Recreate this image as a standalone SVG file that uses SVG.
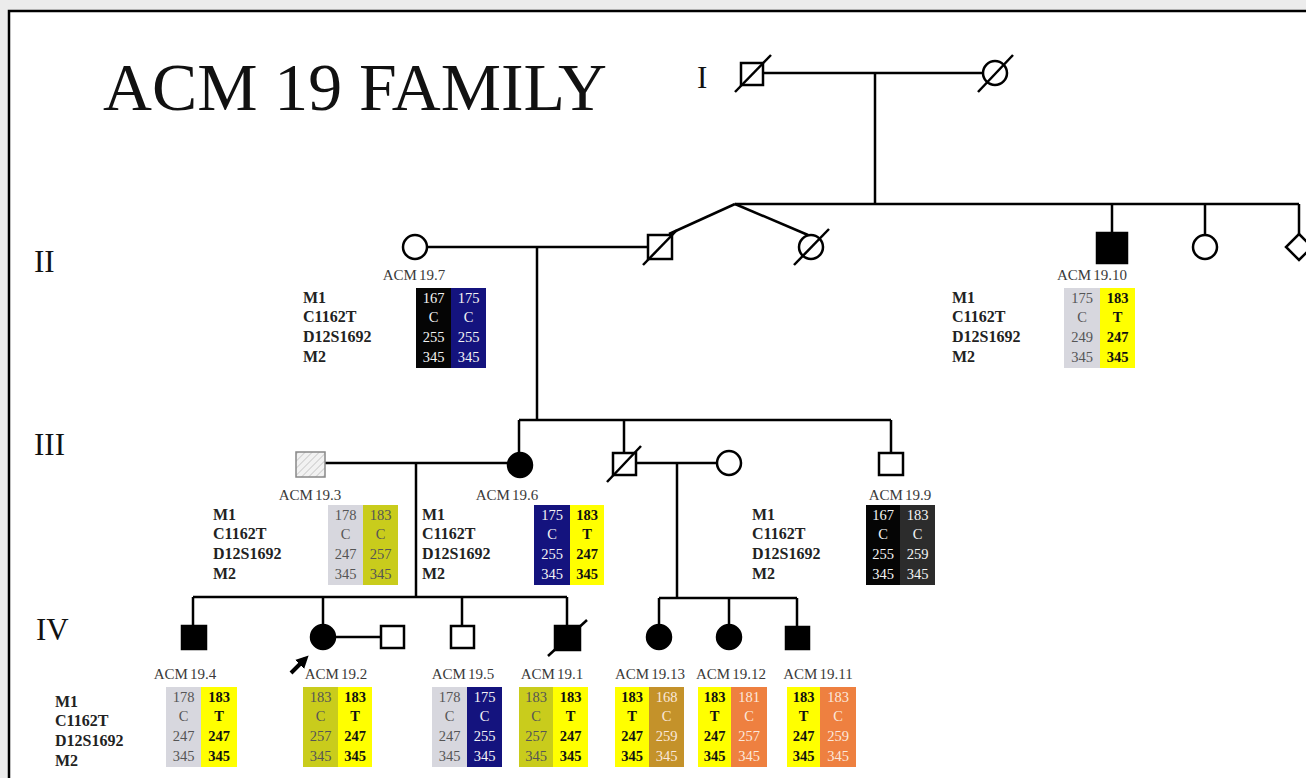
<svg xmlns="http://www.w3.org/2000/svg" width="1306" height="778" viewBox="0 0 1306 778">
<style>
.ln{stroke:#000;stroke-width:2.5;fill:none}
.sym{stroke:#000;stroke-width:2.5;fill:#fff}
.aff{stroke:#000;stroke-width:2.5;fill:#000}
.sl{stroke:#000;stroke-width:2.5}
.gen{font-family:"Liberation Serif",serif;font-size:31px;fill:#111}
.id{font-family:"Liberation Serif",serif;font-size:15px;fill:#3a3a3a;text-anchor:middle;word-spacing:-1.5px}
.lab{font-family:"Liberation Serif",serif;font-size:16px;font-weight:bold;fill:#222}
.v{font-family:"Liberation Serif",serif;font-size:14.5px;text-anchor:middle}
.w{fill:#f4f4f4}
.b{fill:#111;font-weight:bold}
.g{fill:#555}
.o{fill:#fbe8dc}
</style>
<defs>
<pattern id="hatch" width="5" height="5" patternUnits="userSpaceOnUse" patternTransform="rotate(45)">
<rect width="5" height="5" fill="#f2f2f2"/>
<line x1="0" y1="0" x2="0" y2="5" stroke="#aaa" stroke-width="1"/>
</pattern>
<marker id="ah" viewBox="0 0 10 10" refX="6" refY="5" markerWidth="3.2" markerHeight="3.2" orient="auto">
<path d="M0,0 L10,5 L0,10 z" fill="#000"/>
</marker>
</defs>
<rect x="0" y="0" width="1306" height="778" fill="#ececec"/>
<rect x="9" y="11" width="1310" height="790" fill="#fff" stroke="#000" stroke-width="2.5"/>
<text x="103" y="110" font-family="Liberation Serif,serif" font-size="67" fill="#111" textLength="504" lengthAdjust="spacingAndGlyphs">ACM 19 FAMILY</text>
<text class="gen" x="697" y="88">I</text>
<text class="gen" x="34" y="272">II</text>
<text class="gen" x="34" y="455">III</text>
<text class="gen" x="36" y="640">IV</text>

<g id="connectors">
<line class="ln" x1="763" y1="73" x2="983" y2="73"/>
<line class="ln" x1="875" y1="73" x2="875" y2="204"/>
<line class="ln" x1="735" y1="204" x2="1299" y2="204"/>
<line class="ln" x1="735" y1="204" x2="669" y2="234"/>
<line class="ln" x1="735" y1="204" x2="808" y2="235"/>
<line class="ln" x1="1112" y1="204" x2="1112" y2="233"/>
<line class="ln" x1="1205" y1="204" x2="1205" y2="235"/>
<line class="ln" x1="1299" y1="204" x2="1299" y2="234"/>
<line class="ln" x1="427" y1="247" x2="648" y2="247"/>
<line class="ln" x1="537" y1="247" x2="537" y2="420"/>
<line class="ln" x1="519" y1="420" x2="891" y2="420"/>
<line class="ln" x1="519" y1="420" x2="519" y2="453"/>
<line class="ln" x1="624" y1="420" x2="624" y2="453"/>
<line class="ln" x1="891" y1="420" x2="891" y2="453"/>
<line class="ln" x1="325" y1="463" x2="508" y2="463"/>
<line class="ln" x1="416" y1="463" x2="416" y2="597"/>
<line class="ln" x1="636" y1="463" x2="717" y2="463"/>
<line class="ln" x1="677" y1="463" x2="677" y2="598"/>
<line class="ln" x1="193" y1="597" x2="567" y2="597"/>
<line class="ln" x1="193" y1="597" x2="193" y2="626"/>
<line class="ln" x1="323" y1="597" x2="323" y2="625"/>
<line class="ln" x1="462" y1="597" x2="462" y2="626"/>
<line class="ln" x1="567" y1="597" x2="567" y2="626"/>
<line class="ln" x1="335" y1="637" x2="381" y2="637"/>
<line class="ln" x1="659" y1="598" x2="797" y2="598"/>
<line class="ln" x1="659" y1="598" x2="659" y2="624"/>
<line class="ln" x1="729" y1="598" x2="729" y2="624"/>
<line class="ln" x1="797" y1="598" x2="797" y2="627"/>
<line x1="291" y1="673" x2="305" y2="659" stroke="#000" stroke-width="4" marker-end="url(#ah)"/>
</g>

<g id="gen1-male"><rect class="sym" x="741" y="63" width="22" height="22"/><line class="sl" x1="735" y1="92" x2="771" y2="55"/></g>
<g id="gen1-female"><circle class="sym" cx="995" cy="73" r="12"/><line class="sl" x1="978" y1="92" x2="1013" y2="55"/></g>

<g id="gen2-twin-male"><rect class="sym" x="648" y="235" width="24" height="24"/><line class="sl" x1="643" y1="265" x2="677" y2="230"/></g>
<g id="gen2-twin-female"><circle class="sym" cx="811" cy="247" r="12"/><line class="sl" x1="794" y1="265" x2="829" y2="229"/></g>
<g id="gen2-female-1205"><circle class="sym" cx="1205" cy="247" r="12"/></g>
<g id="gen2-unknown"><polygon class="sym" points="1299,234 1312,247 1299,260 1286,247"/></g>

<g id="ACM19-7">
<circle class="sym" cx="415" cy="247" r="12"/>
<text class="id" x="414" y="280">ACM 19.7</text>
<text class="lab" x="303" y="303">M1</text><text class="lab" x="303" y="322">C1162T</text><text class="lab" x="303" y="342">D12S1692</text><text class="lab" x="303" y="362">M2</text>
<rect x="416" y="288" width="35" height="80" fill="#050505"/><rect x="451" y="288" width="35" height="80" fill="#14137e"/>
<text class="v w" x="433.5" y="303">167</text><text class="v w" x="433.5" y="322">C</text><text class="v w" x="433.5" y="342">255</text><text class="v w" x="433.5" y="362">345</text>
<text class="v w" x="468.5" y="303">175</text><text class="v w" x="468.5" y="322">C</text><text class="v w" x="468.5" y="342">255</text><text class="v w" x="468.5" y="362">345</text>
</g>

<g id="ACM19-10">
<rect class="aff" x="1097" y="233" width="30" height="30"/>
<text class="id" x="1092" y="280">ACM 19.10</text>
<text class="lab" x="952" y="303">M1</text><text class="lab" x="952" y="322">C1162T</text><text class="lab" x="952" y="342">D12S1692</text><text class="lab" x="952" y="362">M2</text>
<rect x="1064" y="288" width="36" height="80" fill="#d7d7de"/><rect x="1100" y="288" width="35" height="80" fill="#ffff00"/>
<text class="v g" x="1082" y="303">175</text><text class="v g" x="1082" y="322">C</text><text class="v g" x="1082" y="342">249</text><text class="v g" x="1082" y="362">345</text>
<text class="v b" x="1117.5" y="303">183</text><text class="v b" x="1117.5" y="322">T</text><text class="v b" x="1117.5" y="342">247</text><text class="v b" x="1117.5" y="362">345</text>
</g>

<g id="ACM19-3">
<rect x="296" y="452" width="29" height="25" fill="url(#hatch)" stroke="#888" stroke-width="1.5"/>
<text class="id" x="310" y="500">ACM 19.3</text>
<text class="lab" x="213" y="520">M1</text><text class="lab" x="213" y="539">C1162T</text><text class="lab" x="213" y="559">D12S1692</text><text class="lab" x="213" y="579">M2</text>
<rect x="328" y="505" width="35" height="80" fill="#d7d7de"/><rect x="363" y="505" width="35" height="80" fill="#c9cc1c"/>
<text class="v g" x="345.5" y="520">178</text><text class="v g" x="345.5" y="539">C</text><text class="v g" x="345.5" y="559">247</text><text class="v g" x="345.5" y="579">345</text>
<text class="v g" x="380.5" y="520">183</text><text class="v g" x="380.5" y="539">C</text><text class="v g" x="380.5" y="559">257</text><text class="v g" x="380.5" y="579">345</text>
</g>

<g id="ACM19-6">
<circle class="aff" cx="520" cy="465" r="12"/>
<text class="id" x="507" y="500">ACM 19.6</text>
<text class="lab" x="422" y="520">M1</text><text class="lab" x="422" y="539">C1162T</text><text class="lab" x="422" y="559">D12S1692</text><text class="lab" x="422" y="579">M2</text>
<rect x="534" y="505" width="36" height="80" fill="#14137e"/><rect x="570" y="505" width="34" height="80" fill="#ffff00"/>
<text class="v w" x="552" y="520">175</text><text class="v w" x="552" y="539">C</text><text class="v w" x="552" y="559">255</text><text class="v w" x="552" y="579">345</text>
<text class="v b" x="587" y="520">183</text><text class="v b" x="587" y="539">T</text><text class="v b" x="587" y="559">247</text><text class="v b" x="587" y="579">345</text>
</g>

<g id="gen3-male-deceased"><rect class="sym" x="613" y="453" width="23" height="22"/><line class="sl" x1="607" y1="482" x2="641" y2="446"/></g>
<g id="gen3-female"><circle class="sym" cx="729" cy="463" r="12"/></g>

<g id="ACM19-9">
<rect class="sym" x="879" y="453" width="24" height="22"/>
<text class="id" x="900" y="500">ACM 19.9</text>
<text class="lab" x="752" y="520">M1</text><text class="lab" x="752" y="539">C1162T</text><text class="lab" x="752" y="559">D12S1692</text><text class="lab" x="752" y="579">M2</text>
<rect x="866" y="505" width="34" height="80" fill="#050505"/><rect x="900" y="505" width="35" height="80" fill="#2c2c2c"/>
<text class="v w" x="883" y="520" fill="#ddd">167</text><text class="v w" x="883" y="539">C</text><text class="v w" x="883" y="559">255</text><text class="v w" x="883" y="579">345</text>
<text class="v w" x="917.5" y="520">183</text><text class="v w" x="917.5" y="539">C</text><text class="v w" x="917.5" y="559">259</text><text class="v w" x="917.5" y="579">345</text>
</g>

<g id="gen4-labels">
<text class="lab" x="55" y="707">M1</text><text class="lab" x="55" y="726">C1162T</text><text class="lab" x="55" y="746">D12S1692</text><text class="lab" x="55" y="766">M2</text>
</g>

<g id="ACM19-4">
<rect class="aff" x="182" y="626" width="24" height="23"/>
<text class="id" x="185" y="679">ACM 19.4</text>
<rect x="166" y="687" width="35" height="80" fill="#d7d7de"/><rect x="201" y="687" width="36" height="80" fill="#ffff00"/>
<text class="v g" x="183.5" y="702">178</text><text class="v g" x="183.5" y="721">C</text><text class="v g" x="183.5" y="741">247</text><text class="v g" x="183.5" y="761">345</text>
<text class="v b" x="219" y="702">183</text><text class="v b" x="219" y="721">T</text><text class="v b" x="219" y="741">247</text><text class="v b" x="219" y="761">345</text>
</g>

<g id="ACM19-2">
<circle class="aff" cx="323" cy="637" r="12"/>
<text class="id" x="336" y="679">ACM 19.2</text>
<rect x="303" y="687" width="35" height="80" fill="#c9cc1c"/><rect x="338" y="687" width="34" height="80" fill="#ffff00"/>
<text class="v g" x="320.5" y="702">183</text><text class="v g" x="320.5" y="721">C</text><text class="v g" x="320.5" y="741">257</text><text class="v g" x="320.5" y="761">345</text>
<text class="v b" x="355" y="702">183</text><text class="v b" x="355" y="721">T</text><text class="v b" x="355" y="741">247</text><text class="v b" x="355" y="761">345</text>
</g>

<g id="gen4-spouse"><rect class="sym" x="381" y="626" width="23" height="22"/></g>

<g id="ACM19-5">
<rect class="sym" x="451" y="626" width="23" height="22"/>
<text class="id" x="463" y="679">ACM 19.5</text>
<rect x="432" y="687" width="35" height="80" fill="#d7d7de"/><rect x="467" y="687" width="35" height="80" fill="#14137e"/>
<text class="v g" x="449.5" y="702">178</text><text class="v g" x="449.5" y="721">C</text><text class="v g" x="449.5" y="741">247</text><text class="v g" x="449.5" y="761">345</text>
<text class="v w" x="484.5" y="702">175</text><text class="v w" x="484.5" y="721">C</text><text class="v w" x="484.5" y="741">255</text><text class="v w" x="484.5" y="761">345</text>
</g>

<g id="ACM19-1">
<rect class="aff" x="555" y="626" width="25" height="24"/><line class="sl" x1="548" y1="656" x2="587" y2="620"/>
<text class="id" x="552" y="679">ACM 19.1</text>
<rect x="519" y="687" width="34" height="80" fill="#c9cc1c"/><rect x="553" y="687" width="35" height="80" fill="#ffff00"/>
<text class="v g" x="536" y="702">183</text><text class="v g" x="536" y="721">C</text><text class="v g" x="536" y="741">257</text><text class="v g" x="536" y="761">345</text>
<text class="v b" x="570.5" y="702">183</text><text class="v b" x="570.5" y="721">T</text><text class="v b" x="570.5" y="741">247</text><text class="v b" x="570.5" y="761">345</text>
</g>

<g id="ACM19-13">
<circle class="aff" cx="659" cy="637" r="12"/>
<text class="id" x="650" y="679">ACM 19.13</text>
<rect x="615" y="687" width="34" height="80" fill="#ffff00"/><rect x="649" y="687" width="35" height="80" fill="#c4922a"/>
<text class="v b" x="632" y="702">183</text><text class="v b" x="632" y="721">T</text><text class="v b" x="632" y="741">247</text><text class="v b" x="632" y="761">345</text>
<text class="v o" x="666.5" y="702">168</text><text class="v o" x="666.5" y="721">C</text><text class="v o" x="666.5" y="741">259</text><text class="v o" x="666.5" y="761">345</text>
</g>

<g id="ACM19-12">
<circle class="aff" cx="729" cy="637" r="12"/>
<text class="id" x="731" y="679">ACM 19.12</text>
<rect x="698" y="687" width="33" height="80" fill="#ffff00"/><rect x="731" y="687" width="36" height="80" fill="#ee8040"/>
<text class="v b" x="714.5" y="702">183</text><text class="v b" x="714.5" y="721">T</text><text class="v b" x="714.5" y="741">247</text><text class="v b" x="714.5" y="761">345</text>
<text class="v o" x="749" y="702">181</text><text class="v o" x="749" y="721">C</text><text class="v o" x="749" y="741">257</text><text class="v o" x="749" y="761">345</text>
</g>

<g id="ACM19-11">
<rect class="aff" x="786" y="627" width="23" height="22"/>
<text class="id" x="818" y="679">ACM 19.11</text>
<rect x="787" y="687" width="33" height="80" fill="#ffff00"/><rect x="820" y="687" width="36" height="80" fill="#ee8040"/>
<text class="v b" x="803.5" y="702">183</text><text class="v b" x="803.5" y="721">T</text><text class="v b" x="803.5" y="741">247</text><text class="v b" x="803.5" y="761">345</text>
<text class="v o" x="838" y="702">183</text><text class="v o" x="838" y="721">C</text><text class="v o" x="838" y="741">259</text><text class="v o" x="838" y="761">345</text>
</g>
</svg>
